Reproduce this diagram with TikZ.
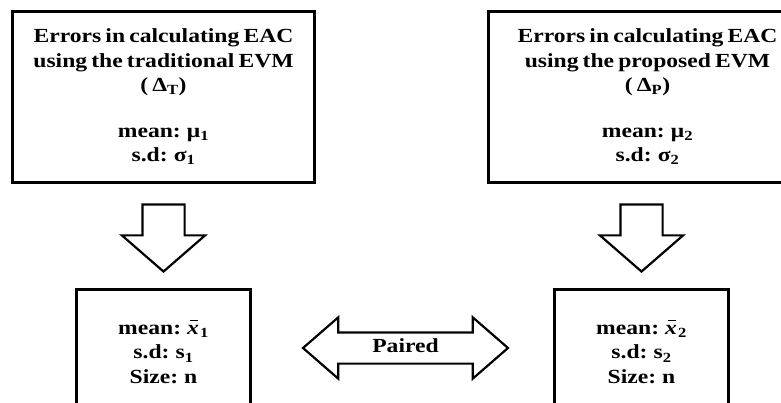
\documentclass[tikz,border=0pt]{standalone}
\usepackage{fontspec}
\setmainfont{Liberation Serif}[FakeStretch=1.18,WordSpace=0.7]
\usetikzlibrary{positioning,shapes.arrows,calc}
\newcommand{\xbar}{\rlap{\kern0.12em\raisebox{0.66em}{\rule{0.42em}{1pt}}}\textit{x}}

\begin{document}
\begin{tikzpicture}[
    x=1pt, y=-1pt,
    box/.style={draw, line width=3pt, align=center, inner sep=0pt, font=\bfseries\fontsize{20}{24.5}\selectfont},
    downarrow/.style={draw, line width=2.2pt, single arrow, shape border rotate=270, inner sep=0pt, inner xsep=20pt, text height=0pt, text depth=0pt, minimum height=67pt, single arrow head extend=20.5pt, single arrow tip angle=98},
    pairarrow/.style={draw, line width=2.2pt, double arrow, inner xsep=0pt, inner ysep=6pt, text height=13pt, text depth=4pt, minimum height=205pt, double arrow head extend=15pt, double arrow tip angle=82, font=\bfseries\fontsize{20}{24.5}\selectfont}
]
\useasboundingbox (0,0) rectangle (781,403);

\node[box, minimum width=302pt, minimum height=171pt] (errT) at (163.5,97)
    {Errors in calculating EAC\\using the traditional EVM\\( Δ\textsubscript{T})\\[21pt]mean: μ\textsubscript{1}\\s.d: σ\textsubscript{1}};
\node[box, minimum width=318pt, minimum height=171pt, right=171pt of errT] (errP)
    {Errors in calculating EAC\\using the proposed EVM\\( Δ\textsubscript{P})\\[21pt]mean: μ\textsubscript{2}\\s.d: σ\textsubscript{2}};
\node[box, minimum width=174pt, minimum height=125pt, below=104pt of errT] (sampT)
    {mean: \xbar\kern1pt\textsubscript{1}\\s.d: s\textsubscript{1}\\Size: n};
\node[box, minimum width=174pt, minimum height=125pt, right=301pt of sampT] (sampP)
    {mean: \xbar\kern1pt\textsubscript{2}\\s.d: s\textsubscript{2}\\Size: n};

\node[downarrow, above=15pt of sampT] (downT) {};
\node[downarrow, above=15pt of sampP] (downP) {};
\node[pairarrow, xshift=3pt, yshift=4pt] (paired) at ($(sampT.east)!0.5!(sampP.west)$) {Paired};
\end{tikzpicture}
\end{document}
